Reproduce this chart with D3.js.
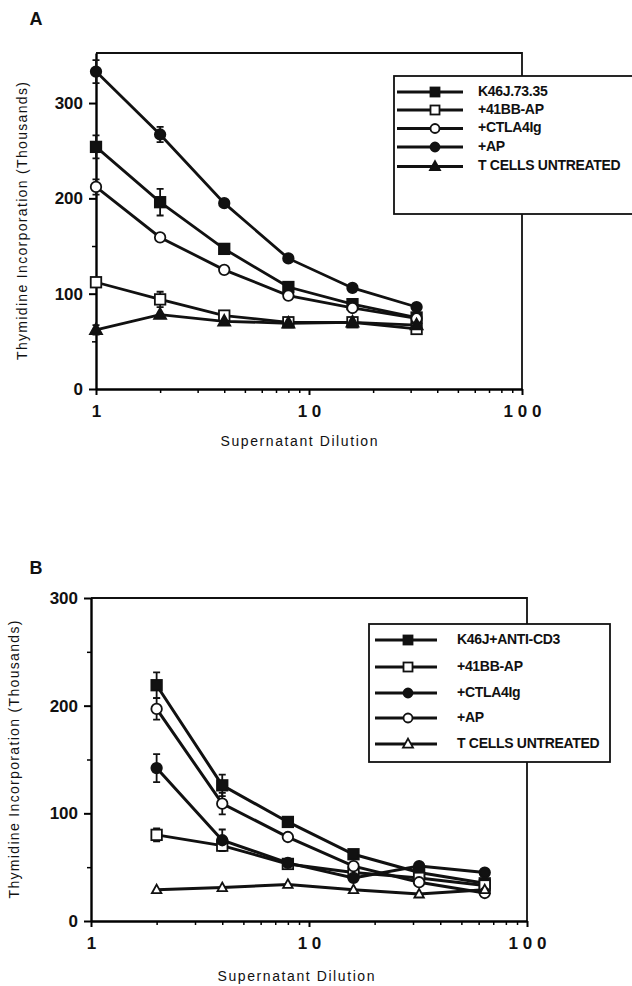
<!DOCTYPE html>
<html>
<head>
<meta charset="utf-8">
<script src="https://cdn.jsdelivr.net/npm/d3@7"></script>
<style>
  html, body { margin: 0; padding: 0; background: #fff; }
  svg { display: block; }
  text { font-family: "Liberation Sans", Arial, Helvetica, sans-serif; fill: #111; }
</style>
</head>
<body>
<svg id="chart" width="632" height="986"></svg>
<script>
// ---------- Data ----------
const dilutionA = [1, 2, 4, 8, 16, 32];
const namesA = ["K46J.73.35", "+41BB-AP", "+CTLA4Ig", "+AP", "T CELLS UNTREATED"];
const markersA = ["filledSquare", "openSquare", "openCircle", "filledCircle", "filledTriangle"];
const k46jA   = [254, 196, 147, 107, 89, 75];
const bb41A   = [112, 94, 77, 70, 70, 63];
const ctla4A  = [212, 159, 125, 98, 85, 74];
const apA     = [333, 267, 195, 137, 106, 86];
const tcellsA = [62, 78, 71, 69, 70, 67];
const errK46jA   = [12, 14, 3, 3, 3, 3];
const errBb41A   = [4, 8, 3, 2, 2, 2];
const errCtla4A  = [8, 3, 3, 3, 2, 2];
const errApA     = [12, 8, 3, 3, 3, 3];
const errTcellsA = [5, 4, 3, 3, 2, 2];

const dilutionB = [2, 4, 8, 16, 32, 64];
const namesB = ["K46J+ANTI-CD3", "+41BB-AP", "+CTLA4Ig", "+AP", "T CELLS UNTREATED"];
const markersB = ["filledSquare", "openSquare", "filledCircle", "openCircle", "openTriangle"];
const k46jB   = [219, 126, 92, 62, 45, 35];
const bb41B   = [80, 70, 53, 45, 40, 33];
const ctla4B  = [142, 75, 54, 40, 51, 45];
const apB     = [197, 109, 78, 51, 36, 26];
const tcellsB = [29, 31, 34, 29, 25, 29];
const errK46jB   = [12, 10, 3, 3, 3, 3];
const errBb41B   = [6, 4, 3, 3, 3, 2];
const errCtla4B  = [13, 10, 3, 3, 3, 3];
const errApB     = [10, 10, 3, 3, 3, 3];
const errTcellsB = [2, 2, 2, 2, 2, 2];

const yMajorTicks = [0, 100, 200, 300];
const yMinorTicks = [50, 150, 250];
const xMajorTicks = [1, 10, 100];
const xMajorLabels = ["1", "1 0", "1 0 0"];
const xMinorTicks = [2, 3, 4, 5, 6, 7, 8, 9, 20, 30, 40, 50, 60, 70, 80, 90];
const yTitle = "Thymidine Incorporation (Thousands)";
const xTitle = "Supernatant Dilution";

// ---------- Drawing ----------
const svg = d3.select("#chart");

function marker(g, type, x, y, s) {
  const filled = type.startsWith("filled");
  const fill = filled ? "#111" : "#fff";
  const attrs = (sel) => sel.attr("fill", fill).attr("stroke", "#111").attr("stroke-width", 1.8);
  if (type.endsWith("Square")) {
    attrs(g.append("rect").attr("x", x - s / 2).attr("y", y - s / 2).attr("width", s).attr("height", s));
  } else if (type.endsWith("Circle")) {
    attrs(g.append("circle").attr("cx", x).attr("cy", y).attr("r", s / 2));
  } else {
    const h = s * 0.9;
    attrs(g.append("path").attr("d", `M${x},${y - h * 0.6}L${x + s / 2},${y + h * 0.4}L${x - s / 2},${y + h * 0.4}Z`));
  }
}

function panel(cfg) {
  const g = svg.append("g");
  const x = d3.scaleLog().domain([1, 100]).range([cfg.left, cfg.right]);
  const y = d3.scaleLinear().domain([0, cfg.yMax]).range([cfg.bottom, cfg.top]);

  // frame (top/right)
  g.append("path")
    .attr("d", `M${cfg.left},${cfg.top}H${cfg.right}V${cfg.bottom}`)
    .attr("fill", "none").attr("stroke", "#111").attr("stroke-width", 1.8);

  // y axis
  const yAxis = g.append("g").attr("transform", `translate(${cfg.left},0)`)
    .call(d3.axisLeft(y).tickValues(yMajorTicks).tickSize(7).tickSizeOuter(0).tickPadding(6).tickFormat(d3.format("d")));
  yAxis.select(".domain").attr("stroke-width", 2.4);
  yAxis.selectAll(".tick line").attr("stroke-width", 2);
  yAxis.selectAll("text").attr("font-size", 17).attr("font-weight", "bold").attr("fill", "#111");
  const yMinor = g.append("g").attr("transform", `translate(${cfg.left},0)`)
    .call(d3.axisLeft(y).tickValues(yMinorTicks).tickSize(4).tickSizeOuter(0).tickFormat(""));
  yMinor.select(".domain").remove();
  yMinor.selectAll(".tick line").attr("stroke-width", 1.5);

  // x axis
  const xAxis = g.append("g").attr("transform", `translate(0,${cfg.bottom})`)
    .call(d3.axisBottom(x).tickValues(xMajorTicks).tickSize(6).tickSizeOuter(0).tickPadding(10)
      .tickFormat((d, i) => xMajorLabels[i]));
  xAxis.select(".domain").attr("stroke-width", 2.4);
  xAxis.selectAll(".tick line").attr("stroke-width", 2);
  xAxis.selectAll("text").attr("font-size", 17).attr("font-weight", "bold").attr("fill", "#111")
    .style("white-space", "pre").attr("xml:space", "preserve");
  const xMinor = g.append("g").attr("transform", `translate(0,${cfg.bottom})`)
    .call(d3.axisBottom(x).tickValues(xMinorTicks).tickSize(4).tickSizeOuter(0).tickFormat(""));
  xMinor.select(".domain").remove();
  xMinor.selectAll(".tick line").attr("stroke-width", 1.5);

  // titles
  g.append("text").attr("x", cfg.letterX).attr("y", cfg.letterY)
    .attr("text-anchor", "middle").attr("dominant-baseline", "middle")
    .attr("font-size", 18).attr("font-weight", "bold").text(cfg.letter);
  const cy = (cfg.top + cfg.bottom) / 2;
  g.append("text").attr("transform", `translate(${cfg.yTitleX},${cy}) rotate(-90)`)
    .attr("text-anchor", "middle").attr("dominant-baseline", "middle")
    .attr("font-size", 14).attr("textLength", 278).attr("lengthAdjust", "spacing")
    .text(yTitle);
  g.append("text").attr("x", cfg.xTitleX).attr("y", cfg.xTitleY)
    .attr("text-anchor", "middle").attr("dominant-baseline", "middle")
    .attr("font-size", 14).attr("textLength", 157).attr("lengthAdjust", "spacing")
    .text(xTitle);

  // series
  const line = d3.line().x((d) => x(d[0])).y((d) => y(d[1]));
  cfg.series.forEach((s) => {
    const pts = cfg.xs.map((xv, i) => [xv, s.values[i]]);
    g.append("path").datum(pts).attr("d", line)
      .attr("fill", "none").attr("stroke", "#111").attr("stroke-width", cfg.lw);
  });
  cfg.series.forEach((s) => {
    cfg.xs.forEach((xv, i) => {
      const e = s.err[i];
      if (e > 4) {
        const px = x(xv), y1 = y(s.values[i] + e), y2 = y(s.values[i] - e);
        g.append("path").attr("d", `M${px},${y1}V${y2}M${px - 3.5},${y1}H${px + 3.5}M${px - 3.5},${y2}H${px + 3.5}`)
          .attr("stroke", "#111").attr("stroke-width", 1.8).attr("fill", "none");
      }
    });
  });
  cfg.series.forEach((s) => {
    cfg.xs.forEach((xv, i) => marker(g, s.marker, x(xv), y(s.values[i]),
      s.marker.endsWith("Triangle") ? (s.marker.startsWith("open") ? 9.5 : 12) : 10.5));
  });

  // legend
  const L = cfg.legend;
  g.append("rect").attr("x", L.x0).attr("y", L.y0).attr("width", L.x1 - L.x0).attr("height", L.y1 - L.y0)
    .attr("fill", "#fff").attr("stroke", "#111").attr("stroke-width", 1.8);
  cfg.series.forEach((s, i) => {
    const ry = L.rows[i];
    g.append("line").attr("x1", L.lx0).attr("x2", L.lx1).attr("y1", ry).attr("y2", ry)
      .attr("stroke", "#111").attr("stroke-width", 3);
    marker(g, s.marker, L.mx, ry, s.marker.endsWith("Triangle") ? 10 : 9);
    g.append("text").attr("x", L.tx).attr("y", ry).attr("dominant-baseline", "middle")
      .attr("font-size", L.fs).attr("font-weight", "bold").attr("letter-spacing", -0.3).text(s.name);
  });
}

panel({
  letter: "A", letterX: 36, letterY: 20,
  left: 96, right: 522, top: 53, bottom: 389, yMax: 352.5,
  yTitleX: 23, xTitleX: 299, xTitleY: 442, lw: 2.8,
  xs: dilutionA,
  series: [
    { name: namesA[0], marker: markersA[0], values: k46jA, err: errK46jA },
    { name: namesA[1], marker: markersA[1], values: bb41A, err: errBb41A },
    { name: namesA[2], marker: markersA[2], values: ctla4A, err: errCtla4A },
    { name: namesA[3], marker: markersA[3], values: apA, err: errApA },
    { name: namesA[4], marker: markersA[4], values: tcellsA, err: errTcellsA }
  ],
  legend: { x0: 394, y0: 76, x1: 640, y1: 214, rows: [92, 110, 128.5, 147, 166.5],
            lx0: 397, lx1: 463, mx: 435, tx: 478, fs: 14 }
});

panel({
  letter: "B", letterX: 36, letterY: 569,
  left: 91, right: 527, top: 598, bottom: 921, yMax: 300,
  yTitleX: 15, xTitleX: 296, xTitleY: 977, lw: 3,
  xs: dilutionB,
  series: [
    { name: namesB[0], marker: markersB[0], values: k46jB, err: errK46jB },
    { name: namesB[1], marker: markersB[1], values: bb41B, err: errBb41B },
    { name: namesB[2], marker: markersB[2], values: ctla4B, err: errCtla4B },
    { name: namesB[3], marker: markersB[3], values: apB, err: errApB },
    { name: namesB[4], marker: markersB[4], values: tcellsB, err: errTcellsB }
  ],
  legend: { x0: 369, y0: 624, x1: 610, y1: 762, rows: [640, 667, 693, 718, 744],
            lx0: 375, lx1: 437, mx: 408, tx: 457, fs: 14 }
});
</script>
</body>
</html>
